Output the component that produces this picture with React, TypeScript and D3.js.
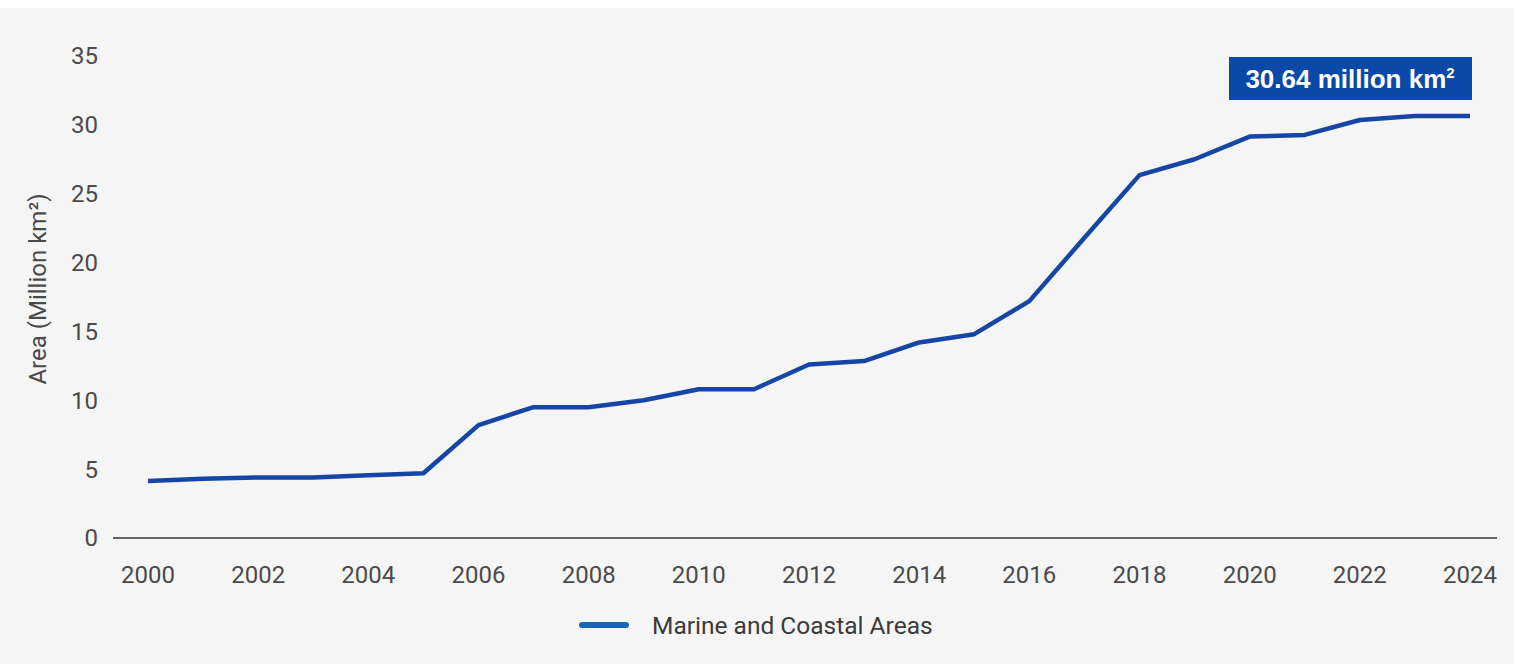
import React from "react";
import * as d3 from "d3";

const years = [2000, 2001, 2002, 2003, 2004, 2005, 2006, 2007, 2008, 2009, 2010, 2011, 2012, 2013, 2014, 2015, 2016, 2017, 2018, 2019, 2020, 2021, 2022, 2023, 2024];
const areaValues = [4.14, 4.3, 4.4, 4.4, 4.55, 4.7, 8.2, 9.5, 9.5, 10.0, 10.8, 10.8, 12.6, 12.85, 14.2, 14.8, 17.2, 21.8, 26.35, 27.5, 29.15, 29.27, 30.35, 30.64, 30.64];
const xTicks = [2000, 2002, 2004, 2006, 2008, 2010, 2012, 2014, 2016, 2018, 2020, 2022, 2024];
const yTicks = [0, 5, 10, 15, 20, 25, 30, 35];
const seriesName = "Marine and Coastal Areas";
const yTitle = "Area (Million km²)";

const W = 1514;
const H = 664;
const FONT = "Roboto, 'Noto Sans', sans-serif";

export default function App() {
  const x = d3.scaleLinear().domain([2000, 2024]).range([148, 1470]);
  const y = d3.scaleLinear().domain([0, 35]).range([538, 56]);
  const data = years.map((yr, i) => ({ yr, v: areaValues[i] }));
  const line = d3
    .line<{ yr: number; v: number }>()
    .x((d) => x(d.yr))
    .y((d) => y(d.v));
  const last = data[data.length - 1];

  return (
    <svg
      width={W}
      height={H}
      style={{ position: "absolute", left: 0, top: 0, display: "block" }}
    >
      <rect x={0} y={0} width={W} height={H} fill="#ffffff" />
      <rect x={0} y={8} width={W} height={H - 8} fill="#f5f5f5" />
      {/* y ticks */}
      {yTicks.map((t) => (
        <text
          key={t}
          x={98}
          y={y(t)}
          dy="0.35em"
          textAnchor="end"
          fontFamily={FONT}
          fontSize={24}
          fill="#4a4a4a"
        >
          {t}
        </text>
      ))}
      {/* x axis */}
      <line x1={113} x2={1497} y1={y(0)} y2={y(0)} stroke="#333" strokeWidth={1.5} />
      {xTicks.map((t) => (
        <text
          key={t}
          x={x(t)}
          y={575}
          dy="0.35em"
          textAnchor="middle"
          fontFamily={FONT}
          fontSize={24}
          fill="#4a4a4a"
        >
          {t}
        </text>
      ))}
      {/* y title */}
      <text
        transform={`translate(38, ${289}) rotate(-90)`}
        textAnchor="middle"
        dy="0.35em"
        fontFamily={FONT}
        fontSize={24}
        fill="#4a4a4a"
      >
        {yTitle}
      </text>
      {/* line */}
      <path
        d={line(data) || ""}
        fill="none"
        stroke="#1546a6"
        strokeWidth={4.5}
        strokeLinejoin="round"
      />
      {/* annotation */}
      <rect x={x(last.yr) - 241} y={57} width={243} height={43} fill="#0b49a8" />
      <text
        x={x(last.yr) - 120}
        y={79}
        dy="0.35em"
        textAnchor="middle"
        fontFamily="'Liberation Sans', Arial, sans-serif"
        fontWeight="bold"
        fontSize={26}
        fill="#ffffff"
      >
        {`${last.v.toFixed(2)} million km`}
        <tspan dy={-10} fontSize={15}>2</tspan>
      </text>
      {/* legend */}
      <line x1={582} x2={626} y1={625} y2={625} stroke="#1766b3" strokeWidth={6} strokeLinecap="round" />
      <text x={652} y={625} dy="0.35em" fontFamily={FONT} fontSize={24.5} fill="#3a3a3a">
        {seriesName}
      </text>
    </svg>
  );
}
